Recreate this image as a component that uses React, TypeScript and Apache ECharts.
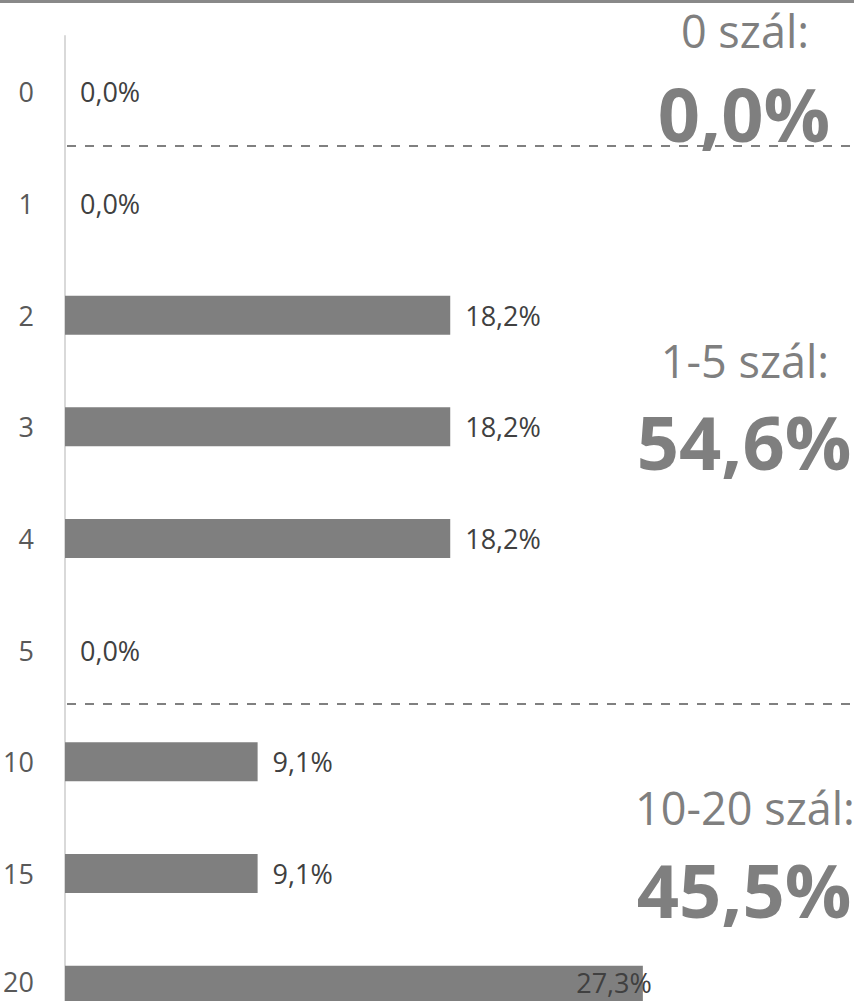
import React, { useEffect, useRef } from "react";
import * as echarts from "echarts";

const categories = ["0", "1", "2", "3", "4", "5", "10", "15", "20"];
const shares = [0.0, 0.0, 18.2, 18.2, 18.2, 0.0, 9.1, 9.1, 27.3];
const groupTitles = ["0 szál:", "1-5 szál:", "10-20 szál:"];
const groupTotals = ["0,0%", "54,6%", "45,5%"];
// dashed separators sit after these category indices
const separatorsAfter = [0, 5];

const FONT = "'Open Sans', 'Noto Sans', sans-serif";

export default function App() {
  const ref = useRef<HTMLDivElement>(null);
  useEffect(() => {
    if (!ref.current) return;
    const chart = echarts.init(ref.current, null, { renderer: "svg" });
    const fmt = (v: number) => v.toFixed(1).replace(".", ",") + "%";
    const lastIdx = shares.length - 1;
    chart.setOption({
      animation: false,
      grid: { left: 65, top: 36, width: 762, height: 1005, containLabel: false },
      xAxis: { type: "value", min: 0, max: 36, show: false },
      yAxis: {
        type: "category",
        data: categories,
        inverse: true,
        axisLine: { show: true, lineStyle: { color: "#d9d9d9", width: 2 } },
        axisTick: { show: false },
        axisLabel: {
          color: "#595959",
          fontSize: 27,
          lineHeight: 26,
          fontFamily: FONT,
          margin: 31,
          formatter: (v: string, i: number) => (i === lastIdx ? `{last|${v}}` : v),
          rich: {
            last: { color: "#595959", fontSize: 27, lineHeight: 26, fontFamily: FONT, padding: [0, 0, 8, 0] },
          },
        },
        splitLine: { show: false },
      },
      series: [
        {
          type: "bar",
          barWidth: 39,
          data: shares.map((v, i) =>
            i === lastIdx
              ? { value: v, label: { position: "insideRight", offset: [24, -3] } }
              : v
          ),
          itemStyle: { color: "#7f7f7f" },
          label: {
            show: true,
            position: "right",
            distance: 15,
            color: "#404040",
            fontSize: 27,
            lineHeight: 26,
            fontFamily: FONT,
            formatter: (p: any) => fmt(p.value),
          },
        },
      ],
    });

    const centerY = (i: number) => chart.convertToPixel({ yAxisIndex: 0 }, categories[i]) as number;
    const graphics: any[] = [
      { type: "rect", shape: { x: 0, y: 0, width: 854, height: 3 }, style: { fill: "#898989" } },
    ];
    separatorsAfter.forEach((i) => {
      const y = Math.round((centerY(i) + centerY(i + 1)) / 2) - 2;
      graphics.push({
        type: "line",
        shape: { x1: 67, y1: y, x2: 854, y2: y },
        style: { stroke: "#808080", lineWidth: 2, lineDash: [9, 9] },
        z: 5,
      });
    });
    const titleTops = [8, 338, 785];
    const totalTops = [76, 404, 852];
    groupTitles.forEach((t, k) => {
      graphics.push({
        type: "text",
        x: 745,
        y: titleTops[k],
        style: { text: t, fill: "#7f7f7f", font: `45px ${FONT}`, textAlign: "center", textVerticalAlign: "top" },
        z: 10,
      });
      graphics.push({
        type: "text",
        x: 744,
        y: totalTops[k],
        style: {
          text: groupTotals[k],
          fill: "#7f7f7f",
          font: `bold 74px ${FONT}`,
          textAlign: "center",
          textVerticalAlign: "top",
        },
        z: 10,
      });
    });
    chart.setOption({ graphic: graphics });
    return () => chart.dispose();
  }, []);
  return (
    <div style={{ position: "absolute", left: 0, top: 0, width: 854, height: 1001, overflow: "hidden", background: "#fff" }}>
      <div ref={ref} style={{ width: 854, height: 1070 }} />
    </div>
  );
}
